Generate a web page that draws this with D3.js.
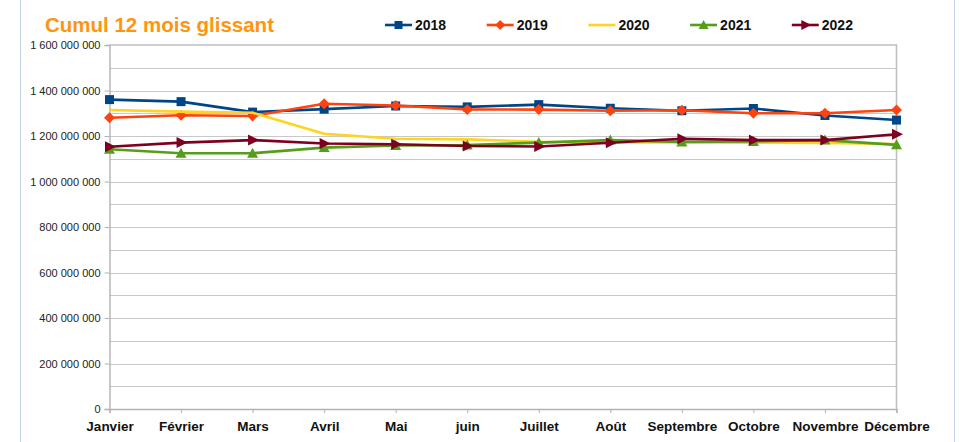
<!DOCTYPE html>
<html>
<head>
<meta charset="utf-8">
<script src="https://cdn.jsdelivr.net/npm/d3@7"></script>
<style>
  body { margin: 0; background: #fff; }
  svg { display: block; font-family: "Liberation Sans", Arial, sans-serif; }
</style>
</head>
<body>
<svg width="967" height="442"></svg>
<script>
// DATA

var months = ["Janvier", "Février", "Mars", "Avril", "Mai", "juin", "Juillet", "Août", "Septembre", "Octobre", "Novembre", "Décembre"];
var years = ["2018", "2019", "2020", "2021", "2022"];
var v2018 = [1360e6, 1351e6, 1305e6, 1318e6, 1332e6, 1328e6, 1338e6, 1322e6, 1311e6, 1321e6, 1290e6, 1270e6];
var v2019 = [1280e6, 1291e6, 1288e6, 1342e6, 1334e6, 1317e6, 1316e6, 1311e6, 1313e6, 1300e6, 1300e6, 1314e6];
var v2020 = [1314e6, 1307e6, 1302e6, 1210e6, 1188e6, 1185e6, 1175e6, 1172e6, 1172e6, 1170e6, 1170e6, 1165e6];
var v2021 = [1142e6, 1124e6, 1124e6, 1149e6, 1158e6, 1160e6, 1171e6, 1182e6, 1174e6, 1176e6, 1182e6, 1161e6];
var v2022 = [1153e6, 1171e6, 1182e6, 1167e6, 1164e6, 1156e6, 1154e6, 1170e6, 1188e6, 1182e6, 1182e6, 1208e6];
var yTicks = [0, 200e6, 400e6, 600e6, 800e6, 1000e6, 1200e6, 1400e6, 1600e6];

// SETUP

var svg = d3.select("svg"),
    colors = ["#004586", "#ff420e", "#ffd320", "#579d1c", "#7e0021"],
    symbols = ["square", "diamond", null, "triangle", "right"],
    series = [v2018, v2019, v2020, v2021, v2022];

var x = d3.scalePoint().domain(months).range([109.5, 896.5]).padding(0),
    y = d3.scaleLinear().domain([0, 1600e6]).range([409, 45]);

var fr = d3.formatLocale({ decimal: ",", thousands: " ", grouping: [3], currency: ["", ""] });
var fmt = fr.format(",");

// page borders
svg.selectAll(".pageline")
    .data([20.5, 954.5])
    .enter().append("line")
    .attr("x1", function (d) { return d; }).attr("x2", function (d) { return d; })
    .attr("y1", 0).attr("y2", 442)
    .attr("stroke", "#c5d3ea").attr("stroke-width", 1);

// GRID

svg.selectAll(".grid")
    .data(d3.range(100e6, 1600e6, 100e6))
    .enter().append("line")
    .attr("x1", x.range()[0]).attr("x2", x.range()[1])
    .attr("y1", function (d) { return Math.round(y(d)) + 0.5; })
    .attr("y2", function (d) { return Math.round(y(d)) + 0.5; })
    .attr("stroke", "#c8c8c8").attr("stroke-width", 1.2);

// frame top + right
svg.append("path")
    .attr("d", "M" + x.range()[0] + "," + y(1600e6) + "H" + x.range()[1] + "V" + y(0))
    .attr("fill", "none").attr("stroke", "#c0c0c0").attr("stroke-width", 1.6);

// AXES

var yAxis = svg.append("g")
    .attr("transform", "translate(" + x.range()[0] + ",0)")
    .call(d3.axisLeft(y).tickValues(yTicks).tickFormat(fmt).tickSize(5).tickPadding(4));
yAxis.select(".domain").attr("stroke", "#b3b3b3").attr("stroke-width", 1.4);
yAxis.selectAll(".tick line").attr("stroke", "#b3b3b3");
yAxis.selectAll("text").attr("font-size", 11).attr("fill", "#222")
    .attr("font-family", "Liberation Sans, Arial, sans-serif");

var xAxis = svg.append("g")
    .attr("transform", "translate(0," + y(0) + ")")
    .call(d3.axisBottom(x).tickSize(4).tickPadding(8));
xAxis.select(".domain").attr("stroke", "#b3b3b3").attr("stroke-width", 1.4);
xAxis.selectAll(".tick line").attr("stroke", "#b3b3b3");
xAxis.selectAll("text").attr("font-size", 13.5).attr("font-weight", "bold").attr("fill", "#111")
    .attr("font-family", "Liberation Sans, Arial, sans-serif");

// LINES

var line = d3.line()
    .x(function (d, i) { return x(months[i]); })
    .y(function (d) { return y(d); });

function symbolPath(type, size) {
    var s = size / 2;
    if (type == "square") return "M" + (-s) + "," + (-s) + "h" + size + "v" + size + "h" + (-size) + "Z";
    if (type == "diamond") return "M0," + (-s - 1) + "L" + (s + 1) + ",0L0," + (s + 1) + "L" + (-s - 1) + ",0Z";
    if (type == "triangle") return "M0," + (-s - 1) + "L" + (s + 1) + "," + s + "L" + (-s - 1) + "," + s + "Z";
    if (type == "right") return "M" + (s + 2) + ",0L" + (-s) + "," + (-s - 1) + "L" + (-s) + "," + (s + 1) + "Z";
    return null;
}

series.forEach(function (vals, k) {
    svg.append("path")
        .datum(vals)
        .attr("d", line)
        .attr("fill", "none")
        .attr("stroke", colors[k])
        .attr("stroke-width", 2.6)
        .attr("stroke-linejoin", "round");
    if (symbols[k]) {
        svg.selectAll(".m" + k)
            .data(vals)
            .enter().append("path")
            .attr("transform", function (d, i) { return "translate(" + x(months[i]) + "," + y(d) + ")"; })
            .attr("d", symbolPath(symbols[k], 9))
            .attr("fill", colors[k]);
    }
});

// TITLE + LEGEND

svg.append("text")
    .attr("x", 45).attr("y", 32)
    .attr("font-size", 20.5).attr("font-weight", "bold")
    .attr("fill", "#ff950e")
    .text("Cumul 12 mois glissant");

var legend = svg.selectAll(".legend")
    .data(years)
    .enter().append("g")
    .attr("transform", function (d, i) { return "translate(" + (385 + i * 101.7) + ",25)"; });

legend.append("line")
    .attr("x1", 0).attr("x2", 27)
    .attr("stroke", function (d, i) { return colors[i]; })
    .attr("stroke-width", 2.6);

legend.filter(function (d, i) { return symbols[i]; })
    .append("path")
    .attr("transform", "translate(13.5,0)")
    .attr("d", function (d, i) { return symbolPath(symbols[years.indexOf(d)], 8); })
    .attr("fill", function (d) { return colors[years.indexOf(d)]; });

legend.append("text")
    .attr("x", 30).attr("y", 5)
    .attr("font-size", 14).attr("font-weight", "bold")
    .attr("fill", "#111")
    .text(function (d) { return d; });
</script>
</body>
</html>
